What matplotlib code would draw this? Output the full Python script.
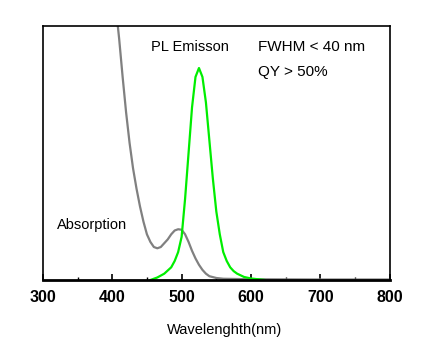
import matplotlib
matplotlib.use("Agg")
import matplotlib.pyplot as plt
from matplotlib.ticker import MultipleLocator

plt.rcParams['font.family'] = ['Liberation Sans', 'DejaVu Sans']

# Absorption spectrum (gray)
abs_wl = [405, 410, 415, 420, 425, 430, 435, 440, 445, 450, 455, 460, 465,
          470, 475, 480, 485, 490, 495, 500, 505, 510, 515, 520, 525, 530,
          535, 540, 550, 560, 600, 700, 800]
abs_val = [1.08, 0.95, 0.80, 0.66, 0.54, 0.44, 0.36, 0.29, 0.23, 0.18, 0.15,
           0.13, 0.125, 0.13, 0.145, 0.16, 0.18, 0.195, 0.20, 0.198, 0.18,
           0.15, 0.115, 0.085, 0.06, 0.04, 0.025, 0.015, 0.008, 0.005, 0.003,
           0.002, 0.002]

# PL emission spectrum (green)
pl_wl = [455, 465, 475, 485, 490, 495, 500, 505, 510, 515, 520, 525, 530,
         535, 540, 545, 550, 555, 560, 565, 570, 575, 580, 590, 600, 610, 620]
pl_val = [0.0, 0.01, 0.025, 0.05, 0.075, 0.11, 0.17, 0.32, 0.50, 0.68, 0.80,
          0.835, 0.80, 0.70, 0.55, 0.40, 0.27, 0.18, 0.11, 0.075, 0.05, 0.035,
          0.025, 0.012, 0.006, 0.003, 0.0]

fig = plt.figure(figsize=(4.37, 3.44), dpi=100)
ax = fig.add_axes([0.098, 0.186, 0.794, 0.738])

ax.plot(abs_wl, abs_val, color='#808080', linewidth=1.6)
ax.plot(pl_wl, pl_val, color='#00ee00', linewidth=1.6)

ax.set_xlim(300, 800)
ax.set_ylim(0, 1.0)
ax.set_yticks([])
ax.xaxis.set_major_locator(MultipleLocator(100))
ax.xaxis.set_minor_locator(MultipleLocator(50))
ax.tick_params(axis='x', which='major', direction='in', length=4, width=1.2,
               labelsize=11.5, pad=7)
ax.tick_params(axis='x', which='minor', direction='in', length=2, width=1.0)
for lbl in ax.get_xticklabels():
    lbl.set_fontweight('bold')

for side in ['top', 'left', 'right']:
    ax.spines[side].set_linewidth(1.2)
ax.spines['bottom'].set_linewidth(2.0)

ax.set_xlabel('Wavelenghth(nm)', fontsize=10.5, labelpad=13, x=0.525)

ax.text(512, 0.917, 'PL Emisson', fontsize=10.5, ha='center', va='center')
ax.text(610, 0.917, 'FWHM < 40 nm', fontsize=11, ha='left', va='center')
ax.text(610, 0.82, 'QY > 50%', fontsize=11, ha='left', va='center')
ax.text(320, 0.217, 'Absorption', fontsize=10.5, ha='left', va='center')

fig.savefig('out.png', dpi=100)
